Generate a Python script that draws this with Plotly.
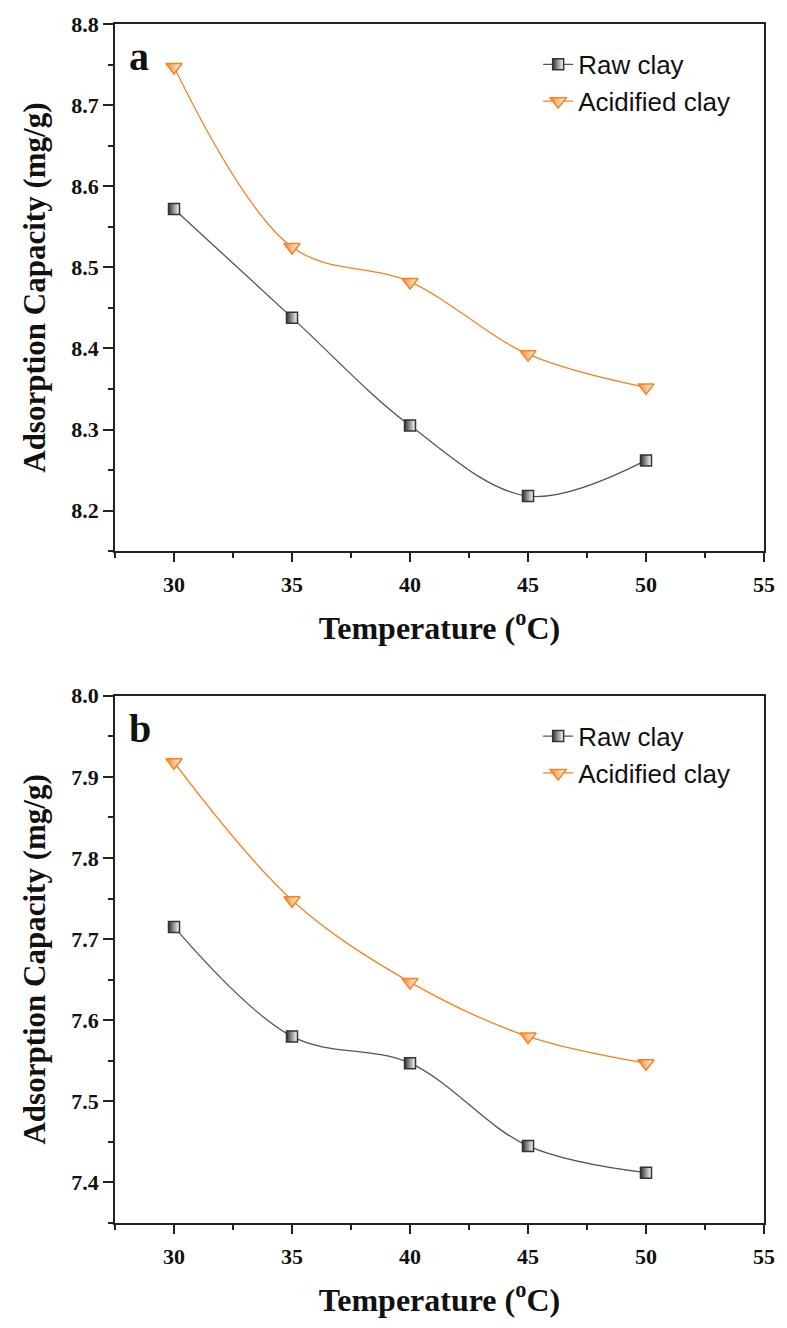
import plotly.graph_objects as go

temps = [30, 35, 40, 45, 50]
raw_a = [8.572, 8.438, 8.305, 8.218, 8.262]
acid_a = [8.747, 8.525, 8.482, 8.393, 8.352]
raw_b = [7.715, 7.580, 7.547, 7.445, 7.412]
acid_b = [7.918, 7.748, 7.647, 7.580, 7.547]

series_names = ["Raw clay", "Acidified clay"]
panel_letters = ["a", "b"]

GRAY_LINE = "#555555"
GRAY_MK = "#333333"
ORANGE = "#f7821f"

fig = go.Figure()

def add_panel(raw, acid, xa, ya, legend):
    fig.add_trace(go.Scatter(
        x=temps, y=raw, name=series_names[0], xaxis=xa, yaxis=ya, legend=legend,
        mode="lines+markers", line=dict(color=GRAY_LINE, width=1.3, shape="spline", smoothing=1),
        marker=dict(symbol="square", size=11, color=GRAY_MK,
                    gradient=dict(type="horizontal", color="white"),
                    line=dict(color=GRAY_MK, width=1.5))))
    fig.add_trace(go.Scatter(
        x=temps, y=acid, name=series_names[1], xaxis=xa, yaxis=ya, legend=legend,
        mode="lines+markers", line=dict(color=ORANGE, width=1.3, shape="spline", smoothing=1),
        marker=dict(symbol="triangle-down", size=14, color=ORANGE,
                    gradient=dict(type="horizontal", color="white"),
                    line=dict(color=ORANGE, width=1.5))))

add_panel(raw_a, acid_a, "x", "y", "legend")
add_panel(raw_b, acid_b, "x2", "y2", "legend2")

AX = "#222222"
tickfont = dict(family="Liberation Serif", size=22, color="#111111", weight="bold")
xtitle = dict(text="<b>Temperature (<sup>o</sup>C)</b>",
              font=dict(family="Liberation Serif", size=32, color="#111111"), standoff=20)
ytitle = dict(text="<b>Adsorption Capacity (mg/g)</b>",
              font=dict(family="Liberation Serif", size=31, color="#111111"), standoff=16)

xcommon = dict(range=[27.5, 55], tick0=30, dtick=5, ticks="outside", ticklen=9, tickwidth=1.5,
               tickcolor=AX, showline=True, linecolor=AX, linewidth=1.5, mirror=True,
               showgrid=False, zeroline=False, tickfont=tickfont, ticklabelstandoff=4,
               minor=dict(dtick=2.5, tick0=27.5, ticks="outside", ticklen=5, tickwidth=1.5, tickcolor=AX),
               title=xtitle)

def ycommon(rng):
    return dict(range=rng, dtick=0.1, tick0=7.0, ticks="outside", ticklen=10, tickwidth=1.5,
                tickcolor=AX, showline=True, linecolor=AX, linewidth=1.5, mirror=True,
                showgrid=False, zeroline=False, tickfont=tickfont, tickformat=".1f",
                minor=dict(dtick=0.05, ticks="outside", ticklen=5, tickwidth=1.5, tickcolor=AX),
                title=ytitle)

W, H = 787, 1328
ml, mr, mt, mb = 115, 16, 20, 105
ph = H - mt - mb
top_a_bottom = (1223 - 549) / ph
top_b_top = (1223 - 694) / ph
leg_off = 17 / ph

legfont = dict(family="Liberation Sans", size=26, color="#111111")
fig.update_layout(
    width=W, height=H, margin=dict(l=ml, r=mr, t=mt, b=mb),
    plot_bgcolor="white", paper_bgcolor="white",
    xaxis=dict(xcommon, domain=[0, 1], anchor="y"),
    yaxis=dict(ycommon([8.15, 8.8]), domain=[top_a_bottom, 1], anchor="x"),
    xaxis2=dict(xcommon, domain=[0, 1], anchor="y2"),
    yaxis2=dict(ycommon([7.35, 8.0]), domain=[0, top_b_top], anchor="x2"),
    legend=dict(x=0.652, y=1 - leg_off, xanchor="left", yanchor="top", bgcolor="rgba(0,0,0,0)",
                font=legfont, tracegroupgap=0, itemwidth=30),
    legend2=dict(x=0.652, y=top_b_top - leg_off, xanchor="left", yanchor="top", bgcolor="rgba(0,0,0,0)",
                 font=legfont, tracegroupgap=0, itemwidth=30),
    showlegend=True,
)

for letter, xr, yr in [(panel_letters[0], "x domain", "y domain"), (panel_letters[1], "x2 domain", "y2 domain")]:
    fig.add_annotation(text="<b>" + letter + "</b>", xref=xr, yref=yr, x=0.018, y=0.985,
                       xanchor="left", yanchor="top", showarrow=False,
                       font=dict(family="Liberation Serif", size=40, color="#111111"))

fig.write_html("out.html")
